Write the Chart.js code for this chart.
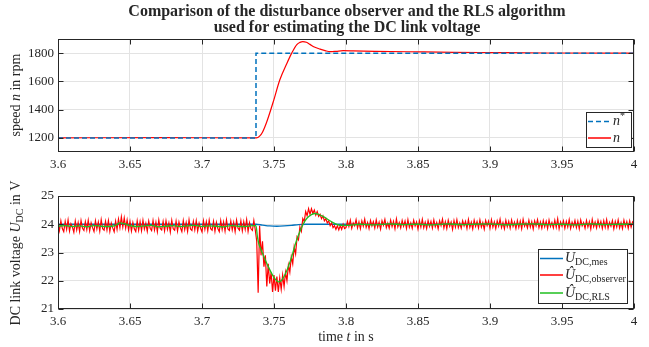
<!DOCTYPE html>
<html>
<head>
<meta charset="utf-8">
<script src="https://cdn.jsdelivr.net/npm/chart.js@4.4.1/dist/chart.umd.min.js"></script>
<style>
  html, body { margin: 0; padding: 0; background: #fff; }
  #wrap { position: relative; width: 649px; height: 347px; overflow: hidden; }
  canvas { position: absolute; left: 0; }
  #top { top: 0; }
  #bottom { top: 175px; }
</style>
</head>
<body>
<div id="wrap">
  <canvas id="top" width="649" height="175"></canvas>
  <canvas id="bottom" width="649" height="172"></canvas>
</div>
<script>
// axis ticks
const xTicks = [3.6, 3.65, 3.7, 3.75, 3.8, 3.85, 3.9, 3.95, 4];
const xTickLabels = ['3.6', '3.65', '3.7', '3.75', '3.8', '3.85', '3.9', '3.95', '4'];
const speedTicks = [1200, 1400, 1600, 1800];
const voltTicks = [21, 22, 23, 24, 25];

// speed reference n* and measured speed n
const speedRefT = [3.6, 3.7375, 3.7375, 4.0];
const speedRef = [1200, 1200, 1800, 1800];
const speedT = [3.6, 3.672, 3.7378, 3.740, 3.742, 3.745, 3.7495, 3.754, 3.759, 3.7623, 3.7657, 3.768, 3.770, 3.7725, 3.775, 3.778, 3.782, 3.786, 3.789, 3.793, 3.798, 3.805, 3.82, 3.85, 3.875, 3.9, 3.94, 4.0];
const speed = [1200, 1202, 1200, 1212, 1240, 1314, 1456, 1610, 1729, 1800, 1859, 1876, 1882, 1877, 1862, 1843, 1828, 1816, 1811, 1813, 1817, 1816, 1813, 1809, 1806, 1804, 1801, 1800];

// measured DC link voltage
const udcMesT = [3.6, 3.7375, 3.742, 3.747, 3.752, 3.757, 3.762, 3.767, 3.772, 4.0];
const udcMes = [24.0, 24.0, 23.97, 23.94, 23.93, 23.94, 23.96, 23.99, 24.0, 24.0];

// RLS estimate
const rlsT = [3.600, 3.605, 3.610, 3.615, 3.620, 3.625, 3.630, 3.635, 3.640, 3.643, 3.646, 3.650, 3.655, 3.660, 3.665, 3.670, 3.675, 3.680, 3.685, 3.690, 3.695, 3.700, 3.705, 3.710, 3.715, 3.720, 3.725, 3.730, 3.735, 3.7375,
  3.7385, 3.7395, 3.741, 3.743, 3.746, 3.749, 3.751, 3.753, 3.755, 3.757, 3.759, 3.761, 3.763, 3.7646, 3.767, 3.7704, 3.773, 3.776, 3.7785, 3.781, 3.785, 3.788, 3.791, 3.794, 3.797,
  3.80, 3.81, 3.82, 3.83, 3.84, 3.85, 3.86, 3.87, 3.88, 3.89, 3.90, 3.91, 3.92, 3.93, 3.94, 3.95, 3.96, 3.97, 3.98, 3.99, 4.0];
const rls = [23.93, 23.95, 23.92, 23.94, 23.91, 23.95, 23.93, 23.92, 23.96, 24.05, 24.02, 23.95, 23.92, 23.94, 23.96, 23.91, 23.93, 23.95, 23.92, 23.94, 23.96, 23.92, 23.94, 23.93, 23.91, 23.95, 23.93, 23.92, 23.95, 23.95,
  23.55, 23.3, 23.1, 22.85, 22.5, 22.2, 22.05, 21.96, 22.0, 22.15, 22.37, 22.65, 22.97, 23.26, 23.62, 24.02, 24.22, 24.34, 24.38, 24.35, 24.25, 24.15, 24.06, 23.99, 23.96,
  23.96, 24.0, 23.98, 24.01, 23.99, 24.0, 23.98, 24.01, 23.99, 24.0, 24.01, 23.98, 24.0, 24.01, 23.99, 24.0, 23.98, 24.01, 23.99, 24.0, 24.0];

// disturbance observer estimate, sampled every 1 ms
const obsStep = 0.001;
const obsPreStart = 3.600;
const obsPre = [
  24.08, 23.78, 24.12, 23.85, 23.74, 24.1, 23.82, 24.15, 23.76, 24.02, 23.9, 23.72, 24.11, 23.8, 24.06, 23.75, 24.13, 23.86, 23.78, 24.09,
  23.81, 24.14, 23.77, 24.05, 23.88, 23.74, 24.12, 23.83, 24.08, 23.76, 24.16, 23.84, 23.79, 24.1, 23.8, 24.13, 23.75, 24.04, 23.87, 23.73,
  24.11, 23.82, 24.18, 23.88, 24.26, 23.9, 24.22, 23.86, 24.15, 23.8, 24.1, 23.76, 24.06, 23.84, 23.74, 24.12, 23.79, 24.09, 23.77, 24.14,
  23.83, 24.03, 23.75, 24.11, 23.86, 23.78, 24.13, 23.8, 24.07, 23.74, 24.15, 23.85, 23.8, 24.1, 23.77, 24.12, 23.82, 24.05, 23.73, 24.14,
  23.84, 23.79, 24.11, 23.76, 24.08, 23.87, 23.74, 24.13, 23.81, 24.06, 23.75, 24.16, 23.83, 23.78, 24.1, 23.8, 24.12, 23.76, 24.04, 23.86,
  23.73, 24.12, 23.82, 24.09, 23.77, 24.14, 23.84, 23.79, 24.1, 23.75, 24.07, 23.85, 23.74, 24.13, 23.81, 24.08, 23.76, 24.15, 23.83, 23.78,
  24.11, 23.8, 24.06, 23.74, 24.14, 23.86, 23.79, 24.12, 23.77, 24.09, 23.82, 24.16, 23.75, 24.05, 23.84, 23.78, 24.13, 23.8
];
const obsDipStart = 3.738;
const obsDip = [
  23.4, 21.58, 23.95, 22.9, 23.4, 22.5, 22.9, 21.8, 22.6, 21.9, 22.3, 21.6,
  22.2, 21.65, 22.15, 21.6, 22.1, 21.7, 22.2, 21.8, 22.3, 22.0,
  22.55, 22.3, 22.85, 22.6, 23.2, 22.95, 23.55, 23.45, 23.9, 23.75,
  24.2, 24.1, 24.45, 24.3, 24.55, 24.35, 24.55, 24.38, 24.5, 24.32,
  24.45, 24.28, 24.35, 24.2, 24.3, 24.12, 24.2, 24.05, 24.12, 23.95,
  24.05, 23.88, 23.95, 23.82, 23.95, 23.8, 23.95, 23.82, 24.0, 23.85
];
const obsPostStart = 3.800;
const obsPost = [
  23.88, 24.1, 23.92, 24.14, 23.86, 24.05, 23.95, 24.16, 23.87, 24.08, 23.84, 24.12, 23.93, 24.18, 23.89, 24.06, 23.85, 24.13, 23.94, 24.09,
  23.87, 24.15, 23.9, 24.07, 23.83, 24.12, 23.96, 24.17, 23.88, 24.04, 23.86, 24.14, 23.92, 24.1, 23.84, 24.19, 23.91, 24.06, 23.87, 24.13,
  23.93, 24.11, 23.85, 24.16, 23.89, 24.05, 23.86, 24.14, 23.94, 24.08, 23.83, 24.12, 23.9, 24.17, 23.88, 24.07, 23.85, 24.13, 23.92, 24.1,
  23.86, 24.15, 23.91, 24.06, 23.84, 24.12, 23.95, 24.18, 23.87, 24.09, 23.85, 24.14, 23.93, 24.08, 23.82, 24.13, 23.9, 24.16, 23.88, 24.05,
  23.86, 24.12, 23.94, 24.1, 23.85, 24.17, 23.89, 24.07, 23.84, 24.14, 23.92, 24.09, 23.87, 24.15, 23.9, 24.06, 23.83, 24.13, 23.95, 24.11,
  23.86, 24.16, 23.9, 24.08, 23.85, 24.12, 23.93, 24.18, 23.88, 24.06, 23.84, 24.14, 23.91, 24.1, 23.86, 24.15, 23.92, 24.07, 23.85, 24.13,
  23.89, 24.11, 23.84, 24.17, 23.93, 24.05, 23.87, 24.14, 23.9, 24.09, 23.83, 24.12, 23.94, 24.16, 23.88, 24.08, 23.86, 24.13, 23.91, 24.1,
  23.85, 24.15, 23.92, 24.06, 23.87, 24.14, 23.89, 24.19, 23.84, 24.08, 23.93, 24.12, 23.86, 24.1, 23.9, 24.16, 23.85, 24.07, 23.92, 24.13,
  23.88, 24.11, 23.84, 24.15, 23.94, 24.06, 23.86, 24.13, 23.9, 24.09, 23.83, 24.17, 23.91, 24.08, 23.87, 24.14, 23.92, 24.1, 23.85, 24.12,
  23.89, 24.16, 23.86, 24.07, 23.93, 24.13, 23.84, 24.1, 23.9, 24.15, 23.87, 24.06, 23.85, 24.14, 23.92, 24.09, 23.86, 24.12, 23.9, 24.08, 24.0
];

const BLUE = '#0072BD';
const RED = '#FF0000';
const GREEN = '#1FBF1F';
const AXIS = '#262626';
const SERIF = '"Liberation Serif", "DejaVu Serif", serif';

function pairs(xs, ys) {
    return xs.map((x, i) => ({x: x, y: ys[i]}));
}

function sampled(start, vals) {
    return vals.map((v, i) => ({x: +(start + i * obsStep).toFixed(4), y: v}));
}

// draws a run of text pieces (normal / italic / sub / sup) one after the other
function drawRich(ctx, parts, x, y, align) {
    let total = 0;
    parts.forEach(p => {
        ctx.font = p.font;
        p.w = ctx.measureText(p.text).width;
        total += p.w;
    });
    let cx = align === 'center' ? x - total / 2 : x;
    ctx.textAlign = 'left';
    ctx.textBaseline = 'middle';
    parts.forEach(p => {
        ctx.font = p.font;
        ctx.fillText(p.text, cx, y + (p.dy || 0));
        cx += p.w;
    });
}

const f = (size, style) => (style ? style + ' ' : '') + size + 'px ' + SERIF;

const decorPlugin = {
    id: 'decor',
    afterDraw(chart, args, opts) {
        const ctx = chart.ctx;
        const a = chart.chartArea;
        const xs = chart.scales.x;
        const ys = chart.scales.y;
        ctx.save();
        ctx.strokeStyle = AXIS;
        ctx.fillStyle = AXIS;
        ctx.lineWidth = 1;

        // box and inward ticks, matlab style
        const L = Math.round(a.left) + 0.5, R = Math.round(a.right) - 0.5;
        const T = Math.round(a.top) + 0.5, B = Math.round(a.bottom) - 0.5;
        ctx.beginPath();
        xs.ticks.forEach(t => {
            const px = Math.round(xs.getPixelForValue(t.value)) + 0.5;
            ctx.moveTo(px, B); ctx.lineTo(px, B - 5);
            ctx.moveTo(px, T); ctx.lineTo(px, T + 5);
        });
        ys.ticks.forEach(t => {
            const py = Math.round(ys.getPixelForValue(t.value)) + 0.5;
            ctx.moveTo(L, py); ctx.lineTo(L + 5, py);
            ctx.moveTo(R, py); ctx.lineTo(R - 5, py);
        });
        ctx.stroke();
        ctx.strokeRect(L, T, R - L, B - T);

        // legend
        const lg = opts.legend;
        ctx.fillStyle = '#fff';
        ctx.fillRect(lg.x, lg.y, lg.w, lg.h);
        ctx.strokeRect(lg.x + 0.5, lg.y + 0.5, lg.w, lg.h);
        lg.items.forEach(it => {
            ctx.beginPath();
            ctx.strokeStyle = it.color;
            ctx.lineWidth = 1.5;
            ctx.setLineDash(it.dash || []);
            ctx.moveTo(lg.x + 2, it.y);
            ctx.lineTo(lg.x + 25, it.y);
            ctx.stroke();
            ctx.setLineDash([]);
            ctx.fillStyle = AXIS;
            drawRich(ctx, it.parts, lg.x + 27, it.y, 'left');
        });

        // axis titles
        ctx.fillStyle = AXIS;
        if (opts.yTitle) {
            ctx.save();
            ctx.translate(opts.yTitle.x, opts.yTitle.y);
            ctx.rotate(-Math.PI / 2);
            drawRich(ctx, opts.yTitle.parts, 0, 0, 'center');
            ctx.restore();
        }
        if (opts.xTitle) {
            drawRich(ctx, opts.xTitle.parts, opts.xTitle.x, opts.xTitle.y, 'center');
        }
        if (opts.title) {
            opts.title.lines.forEach(ln => {
                drawRich(ctx, [{text: ln.text, font: f(16, 'bold')}], opts.title.x, ln.y, 'center');
            });
        }
        ctx.restore();
    }
};

function makeChart(id, datasets, yMin, yMax, yTicks, padTop, xAxisHeight, decor) {
    return new Chart(document.getElementById(id), {
        type: 'line',
        data: {datasets: datasets},
        options: {
            responsive: false,
            animation: false,
            devicePixelRatio: 1,
            layout: {padding: {top: padTop, right: 15, left: 0, bottom: 0}},
            elements: {point: {radius: 0}},
            plugins: {
                legend: {display: false},
                tooltip: {enabled: false},
                decor: decor
            },
            scales: {
                x: {
                    type: 'linear',
                    min: 3.6,
                    max: 4,
                    afterBuildTicks: s => { s.ticks = xTicks.map(v => ({value: v})); },
                    afterFit: s => { s.height = xAxisHeight; },
                    grid: {color: '#e3e3e3', drawTicks: false},
                    border: {display: false},
                    ticks: {
                        padding: 5,
                        maxRotation: 0,
                        autoSkip: false,
                        color: AXIS,
                        font: {family: SERIF, size: 13},
                        callback: (v) => xTickLabels[xTicks.findIndex(t => Math.abs(t - v) < 1e-6)]
                    }
                },
                y: {
                    min: yMin,
                    max: yMax,
                    afterBuildTicks: s => { s.ticks = yTicks.map(v => ({value: v})); },
                    afterFit: s => { s.width = 58; },
                    grid: {color: '#e3e3e3', drawTicks: false},
                    border: {display: false},
                    ticks: {
                        padding: 4,
                        color: AXIS,
                        font: {family: SERIF, size: 13},
                        callback: (v) => String(v)
                    }
                }
            }
        },
        plugins: [decorPlugin]
    });
}

// speed plot
makeChart('top', [
    {data: pairs(speedRefT, speedRef), borderColor: BLUE, borderWidth: 1.5, borderDash: [5, 3], tension: 0, order: 0},
    {data: pairs(speedT, speed), borderColor: RED, borderWidth: 1.2, cubicInterpolationMode: 'monotone', order: 1}
], 1100, 1900, speedTicks, 39, 23, {
    legend: {
        x: 586, y: 112, w: 45, h: 35,
        items: [
            {y: 121.5, color: BLUE, dash: [5, 3], parts: [{text: 'n', font: f(14, 'italic')}, {text: '*', font: f(10), dy: -5}]},
            {y: 138, color: RED, parts: [{text: 'n', font: f(14, 'italic')}]}
        ]
    },
    yTitle: {x: 16, y: 95, parts: [
        {text: 'speed ', font: f(14)}, {text: 'n', font: f(14, 'italic')}, {text: ' in rpm', font: f(14)}
    ]},
    title: {x: 347, lines: [
        {y: 12, text: 'Comparison of the disturbance observer and the RLS algorithm'},
        {y: 28, text: 'used for estimating the DC link voltage'}
    ]}
});

// DC link voltage plot
makeChart('bottom', [
    {data: pairs(udcMesT, udcMes), borderColor: BLUE, borderWidth: 1.3, cubicInterpolationMode: 'monotone', order: 2},
    {data: sampled(obsPreStart, obsPre).concat(sampled(obsDipStart, obsDip), sampled(obsPostStart, obsPost)),
        borderColor: RED, borderWidth: 1.2, tension: 0, order: 1},
    {data: pairs(rlsT, rls), borderColor: GREEN, borderWidth: 1.3, cubicInterpolationMode: 'monotone', order: 0}
], 21, 25, voltTicks, 21, 38, {
    legend: {
        x: 538, y: 74, w: 89, h: 54,
        items: [
            {y: 83.5, color: BLUE, parts: [{text: 'U', font: f(14, 'italic')}, {text: 'DC,mes', font: f(10), dy: 4}]},
            {y: 100, color: RED, parts: [{text: 'Û', font: f(14, 'italic')}, {text: 'DC,observer', font: f(10), dy: 4}]},
            {y: 118, color: GREEN, parts: [{text: 'Û', font: f(14, 'italic')}, {text: 'DC,RLS', font: f(10), dy: 4}]}
        ]
    },
    yTitle: {x: 16, y: 78, parts: [
        {text: 'DC link voltage ', font: f(14)}, {text: 'U', font: f(14, 'italic')},
        {text: 'DC', font: f(10), dy: 4}, {text: ' in V', font: f(14)}
    ]},
    xTitle: {x: 346, y: 162, parts: [
        {text: 'time ', font: f(14)}, {text: 't', font: f(14, 'italic')}, {text: ' in s', font: f(14)}
    ]}
});
</script>
</body>
</html>
